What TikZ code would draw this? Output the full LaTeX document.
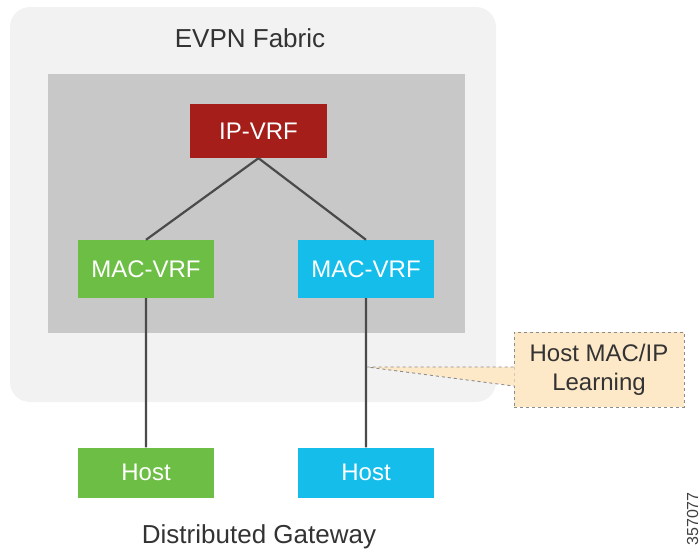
\documentclass[tikz,border=0pt]{standalone}
\usepackage{fontspec}
\setmainfont{Liberation Sans}
\definecolor{fabricbg}{HTML}{F2F2F2}
\definecolor{vrfbg}{HTML}{C8C8C8}
\definecolor{ipred}{HTML}{A51E19}
\definecolor{macgreen}{HTML}{6DBE45}
\definecolor{macblue}{HTML}{14BDEA}
\definecolor{noteorange}{HTML}{FDE9C8}
\definecolor{linegray}{HTML}{4A4A4A}

\begin{document}
\begin{tikzpicture}[x=1pt, y=-1pt,
    box/.style={minimum width=136pt, minimum height=58pt, inner sep=0pt, text=white, font=\fontsize{24}{28}\selectfont},
    hostbox/.style={box, minimum height=50pt},
    link/.style={draw=linegray, line width=2.2pt},
    title/.style={text=black!80, font=\fontsize{26}{30}\selectfont},
    note/.style={fill=noteorange, draw=black!45, dashed, line width=0.9pt, minimum width=170pt, minimum height=75pt, align=center, inner sep=0pt, text=black!80, font=\fontsize{24}{29}\selectfont}]
      \useasboundingbox (0,0) rectangle (700,552);
      \fill[fabricbg, rounded corners=20pt] (10,7) rectangle (496,402);
      \fill[vrfbg] (48,74) rectangle (465,333);
      \node[title] (fabric) at (250,38) {EVPN Fabric};
      \node[title] (gateway) at (259,537) {Distributed Gateway};

      \node[box, fill=ipred, minimum width=137pt, minimum height=54pt] (ipvrf) at (258.5,131) {IP-VRF};
      \node[box, fill=macgreen] (macl) at (146,269) {MAC-VRF};
      \node[box, fill=macblue] (macr) at (366,269) {MAC-VRF};
      \node[hostbox, fill=macgreen] (hostl) at (146,472.5) {Host};
      \node[hostbox, fill=macblue] (hostr) at (366,472.5) {Host};

      \draw[link] (ipvrf.south) -- (macl.north)
      (ipvrf.south) -- (macr.north)
      (macl.south) -- (hostl.north)
      (macr.south) -- (hostr.north);
      \coordinate (tip) at (367,367);

      % callout
      \node[note] (learn) at (599,369.5) {Host MAC/IP\\Learning};
      \fill[noteorange] ([shift={(1pt,2.5pt)}]learn.west) -- (tip) -- ([shift={(1pt,-16.5pt)}]learn.west) -- cycle;
      \draw[draw=black!45, dashed, line width=0.9pt] ([yshift=2.5pt]learn.west) -- (tip) -- ([yshift=-16.5pt]learn.west);

      \node[rotate=90, anchor=base east, inner sep=0pt, text=black!75, font=\fontsize{16}{18}\selectfont] (figid) at (698,492) {357077};
    \end{tikzpicture}
\end{document}
